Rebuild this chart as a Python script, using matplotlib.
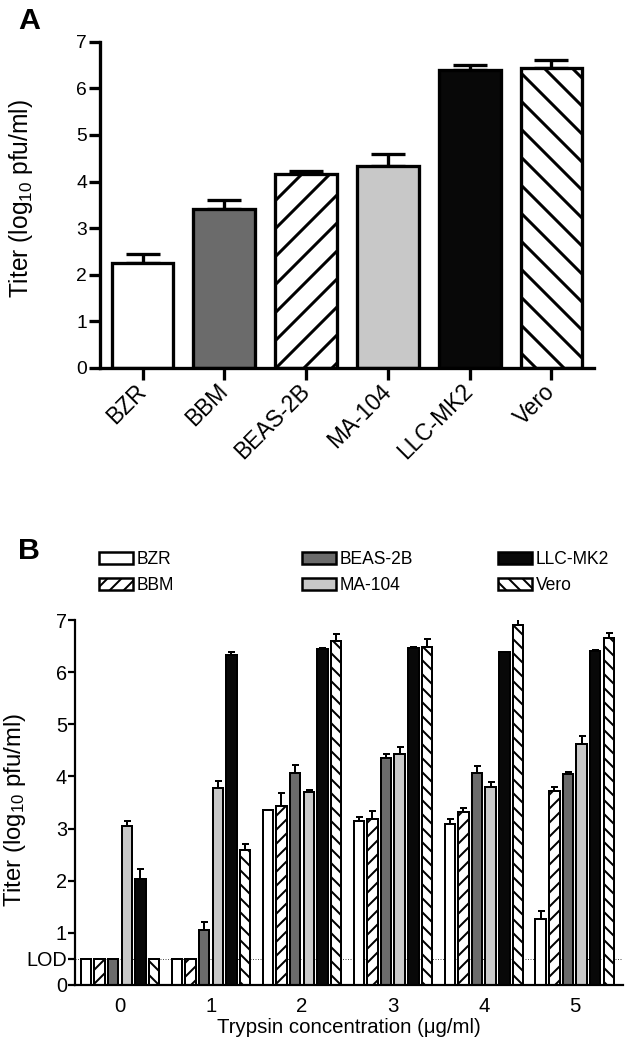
import numpy as np
import matplotlib
matplotlib.use("Agg")
import matplotlib.pyplot as plt
import matplotlib.transforms as mtransforms
from matplotlib.patches import Patch

plt.rcParams['font.family'] = ['Liberation Sans', 'DejaVu Sans']
plt.rcParams['mathtext.default'] = 'regular'

# ---------------- data ----------------
cells_a = ["BZR", "BBM", "BEAS-2B", "MA-104", "LLC-MK2", "Vero"]
titer_a = [2.25, 3.41, 4.16, 4.34, 6.39, 6.44]
err_a = [0.20, 0.19, 0.07, 0.25, 0.11, 0.17]

trypsin = [0, 1, 2, 3, 4, 5]
cells_b = ["BZR", "BBM", "BEAS-2B", "MA-104", "LLC-MK2", "Vero"]
titer_b = {
    "BZR":     [0.5, 0.5, 3.36, 3.15, 3.09, 1.27],
    "BBM":     [0.5, 0.5, 3.44, 3.19, 3.31, 3.73],
    "BEAS-2B": [0.5, 1.06, 4.06, 4.36, 4.06, 4.05],
    "MA-104":  [3.04, 3.78, 3.70, 4.43, 3.79, 4.63],
    "LLC-MK2": [2.03, 6.33, 6.44, 6.47, 6.38, 6.41],
    "Vero":    [0.5, 2.59, 6.59, 6.48, 6.91, 6.65],
}
err_b = {
    "BZR":     [0.0, 0.0, 0.0, 0.08, 0.10, 0.14],
    "BBM":     [0.0, 0.0, 0.24, 0.15, 0.09, 0.06],
    "BEAS-2B": [0.0, 0.15, 0.16, 0.07, 0.14, 0.04],
    "MA-104":  [0.11, 0.13, 0.04, 0.14, 0.11, 0.15],
    "LLC-MK2": [0.19, 0.05, 0.02, 0.02, 0.01, 0.01],
    "Vero":    [0.0, 0.11, 0.14, 0.16, 0.11, 0.10],
}
lod = 0.5
yticks_b = [0, 0.5, 1, 2, 3, 4, 5, 6, 7]
yticklabels_b = ["0", "LOD", "1", "2", "3", "4", "5", "6", "7"]

# styles
style_a = {
    "BZR": dict(color="white", hatch=None),
    "BBM": dict(color="#6b6b6b", hatch=None),
    "BEAS-2B": dict(color="white", hatch="/"),
    "MA-104": dict(color="#c8c8c8", hatch=None),
    "LLC-MK2": dict(color="#080808", hatch=None),
    "Vero": dict(color="white", hatch="\\"),
}
style_b = {
    "BZR": dict(color="white", hatch=None),
    "BBM": dict(color="white", hatch="//"),
    "BEAS-2B": dict(color="#6b6b6b", hatch=None),
    "MA-104": dict(color="#c8c8c8", hatch=None),
    "LLC-MK2": dict(color="#080808", hatch=None),
    "Vero": dict(color="white", hatch="\\\\"),
}

DPI = 84
fig = plt.figure(figsize=(630 / DPI, 1050 / DPI), dpi=DPI)
px = 72.0 / DPI  # points per pixel

def set_hlw(patches, lw):
    for p in patches:
        if hasattr(p, "set_hatch_linewidth"):
            p.set_hatch_linewidth(lw)

# ---------------- Panel A ----------------
with plt.rc_context({'hatch.linewidth': 3 * px}):
    axA = fig.add_axes([100 / 630, 1 - 368 / 1050, (594 - 100) / 630, (368 - 41.7) / 1050])
    xa = np.arange(len(cells_a))
    for i, c in enumerate(cells_a):
        st = style_a[c]
        bars = axA.bar(xa[i], titer_a[i], width=0.754, color=st["color"], hatch=st["hatch"],
                       edgecolor="black", linewidth=3.3 * px, zorder=2)
        set_hlw(bars, 3 * px)
    axA.errorbar(xa, titer_a, yerr=[np.zeros(len(err_a)), err_a], fmt="none",
                 ecolor="black", elinewidth=3.3 * px, capsize=17 * px, capthick=3.3 * px, zorder=1)
axA.set_xlim(-0.52, 5.52)
axA.set_ylim(0, 7)
axA.set_yticks(range(0, 8))
axA.set_xticks(xa)
axA.set_xticklabels(cells_a, rotation=45, ha="right", va="center", rotation_mode="anchor")
shift = mtransforms.ScaledTranslation(-3 / DPI, 0, fig.dpi_scale_trans)
for lab in axA.get_xticklabels():
    lab.set_transform(lab.get_transform() + shift)
for s in ["top", "right"]:
    axA.spines[s].set_visible(False)
for s in ["left", "bottom"]:
    axA.spines[s].set_linewidth(3.3 * px)
axA.tick_params(axis="both", direction="out", width=3.3 * px)
axA.tick_params(axis="y", length=11 * px, labelsize=16.5, pad=2 * px)
axA.tick_params(axis="x", length=12 * px, labelsize=19.5, pad=8 * px)
axA.set_ylabel("Titer (log$_{10}$ pfu/ml)", fontsize=21)
axA.yaxis.set_label_coords(-(100 - 35) / 494, 0.52)
fig.text(29 / 630, 1 - 21 / 1050, "A", fontsize=26, fontweight="bold", ha="center", va="center")

# ---------------- Panel B ----------------
with plt.rc_context({'hatch.linewidth': 2 * px}):
    axB = fig.add_axes([75 / 630, 1 - 985 / 1050, (623 - 75) / 630, (985 - 620) / 1050])
    xb = np.arange(len(trypsin))
    slot = 0.15
    handles = []
    for j, c in enumerate(cells_b):
        st = style_b[c]
        off = (j - 2.5) * slot
        bars = axB.bar(xb + off, titer_b[c], width=0.115, color=st["color"], hatch=st["hatch"],
                       edgecolor="black", linewidth=2 * px, zorder=2, label=c)
        set_hlw(bars, 2 * px)
        e = np.array(err_b[c])
        m = e > 0
        axB.errorbar((xb + off)[m], np.array(titer_b[c])[m], yerr=[np.zeros(m.sum()), e[m]],
                     fmt="none", ecolor="black", elinewidth=2 * px, capsize=3.5 * px,
                     capthick=2 * px, zorder=1)
        h = Patch(facecolor=st["color"], hatch=st["hatch"], edgecolor="black", linewidth=2.5 * px)
        set_hlw([h], 2 * px)
        handles.append(h)

    axB.axhline(lod, color="#555555", linestyle=(0, (1, 1.5)), linewidth=1 * px, zorder=0)
    axB.set_xlim(-0.495, 5.53)
    axB.set_ylim(0, 7)
    axB.set_yticks(yticks_b)
    axB.set_yticklabels(yticklabels_b)
    axB.set_xticks(xb)
    axB.set_xticklabels([str(t) for t in trypsin])
    for s in ["top", "right"]:
        axB.spines[s].set_visible(False)
    for s in ["left", "bottom"]:
        axB.spines[s].set_linewidth(2.2 * px)
    axB.tick_params(axis="y", direction="out", length=7 * px, width=2.2 * px, labelsize=17, pad=1 * px)
    axB.tick_params(axis="x", length=0, labelsize=17.5, pad=12 * px)
    axB.set_ylabel("Titer (log$_{10}$ pfu/ml)", fontsize=20.5)
    axB.yaxis.set_label_coords(-(75 - 28) / 548, 0.48)
    axB.set_xlabel("Trypsin concentration (\u03bcg/ml)", fontsize=17.5, labelpad=2)

    # legend: three columns at fixed positions
    col_x = [99, 302, 498]
    for k in range(3):
        fig.legend(handles[2 * k:2 * k + 2], cells_b[2 * k:2 * k + 2],
                   loc="upper left", bbox_to_anchor=(col_x[k] / 630, 1 - 551 / 1050),
                   frameon=False, fontsize=15, handlelength=1.95, handleheight=0.7,
                   handletextpad=0.2, labelspacing=0.5, borderaxespad=0, borderpad=0)
fig.text(29 / 630, 1 - 551 / 1050, "B", fontsize=26, fontweight="bold", ha="center", va="center")

fig.savefig("out.png", dpi=DPI)
